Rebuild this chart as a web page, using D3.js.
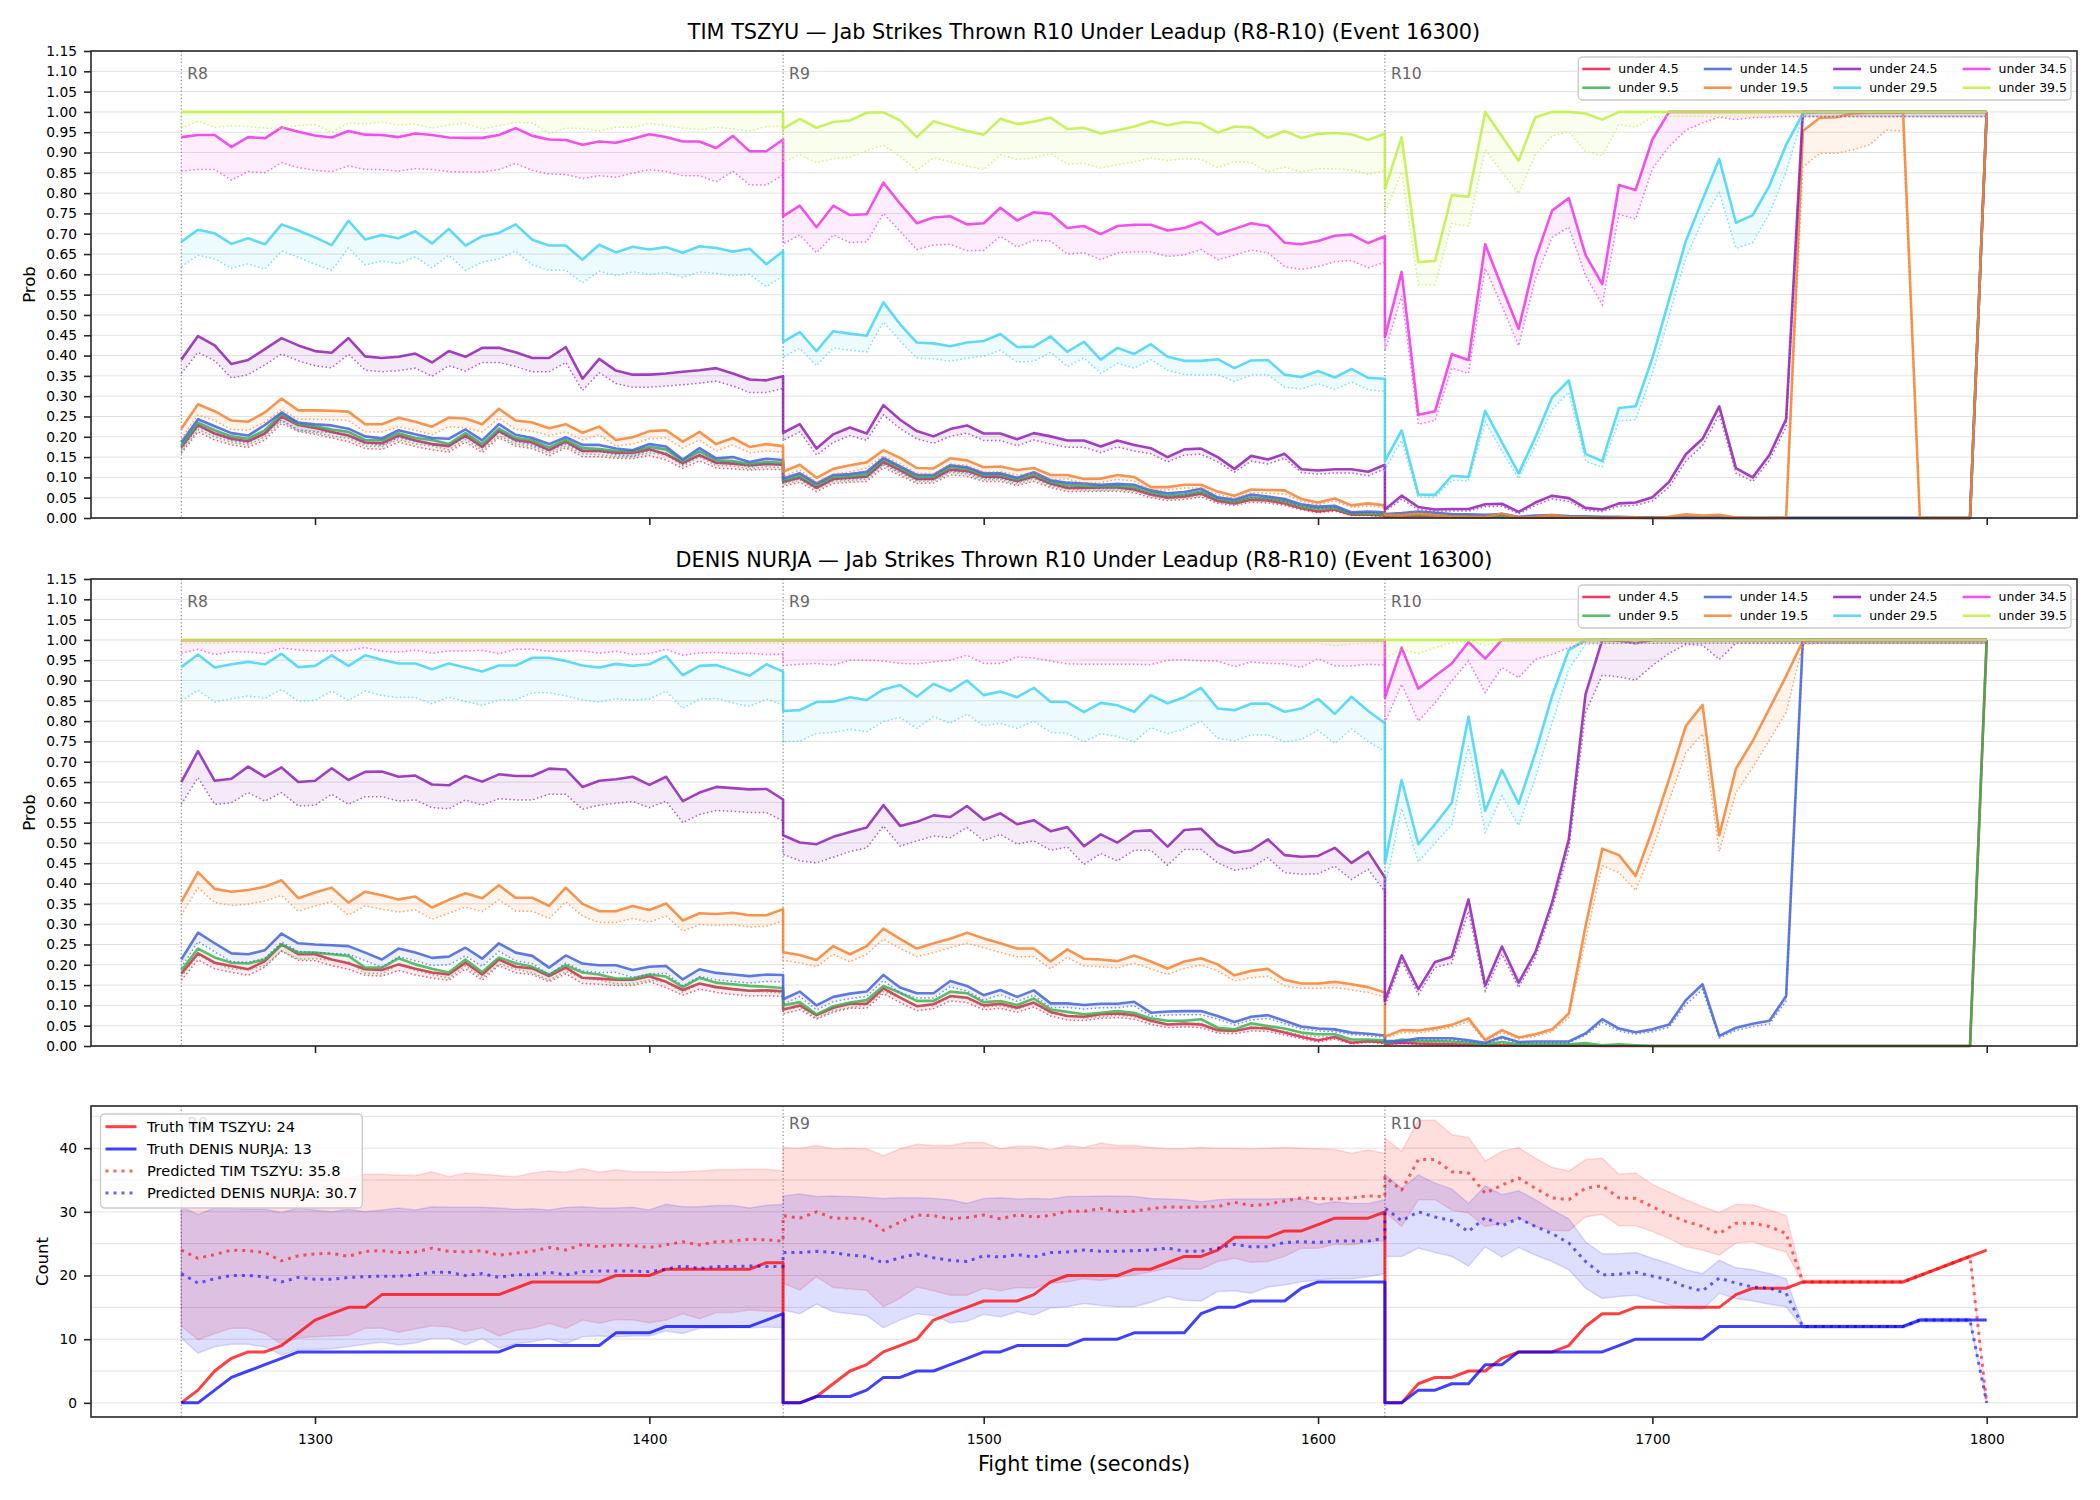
<!DOCTYPE html>
<html>
<head>
<meta charset="utf-8">
<script src="https://cdn.jsdelivr.net/npm/d3@7/dist/d3.min.js"></script>
<style>
  html, body { margin: 0; padding: 0; background: #fff; }
  svg { display: block; }
</style>
</head>
<body>
<div id="chart"></div>
<script>
// ---- data -------------------------------------------------------------
const roundStarts = [1260, 1440, 1620];
const roundLabels = ['R8', 'R9', 'R10'];
const stepSec = 5;
const xTicks = [1300, 1400, 1500, 1600, 1700, 1800];
const countTicks = [0, 10, 20, 30, 40];
const fighters = ['TIM TSZYU', 'DENIS NURJA'];
const thresholds = ['under 4.5', 'under 9.5', 'under 14.5', 'under 19.5', 'under 24.5', 'under 29.5', 'under 34.5', 'under 39.5'];
const colors = ['#e6194B', '#3cb44b', '#4363d8', '#f58231', '#911eb4', '#42d4f4', '#f032e6', '#bfef45'];
const countLegendLabels = ['Truth TIM TSZYU: 24', 'Truth DENIS NURJA: 13', 'Predicted TIM TSZYU: 35.8', 'Predicted DENIS NURJA: 30.7'];

// probabilities in percent, 37 samples per round (R8, R9, R10); "Lo" = dotted lower line
const timU45 = [
  17.4,22.9,20.8,19.5,18.9,20.8,25.0,22.9,22.2,21.2, 20.3,18.6,18.4,20.3,19.1,18.2,17.7,20.3,17.5,21.4, 19.2,18.6,16.7,18.8,16.5,16.5,16.1,16.0,16.9,15.7, 13.5,15.5,13.6,13.4,13.0,13.3,13.1,
  8.9,9.9,7.4,9.6,9.9,10.2,13.8,11.8,9.6,9.7, 11.9,11.6,10.2,10.1,9.1,10.2,8.5,7.4,7.4,7.5, 7.5,7.0,5.8,5.0,5.3,6.0,4.2,3.6,4.5,4.3, 3.6,2.4,1.6,2.1,0.8,0.8,0.6,
  0.3,0.4,0.5,0.4,0.3,0.2,0.2,0.3,0.1,0.1, 0.1,0.1,0.1,0,0,0,0,0,0,0, 0,0,0,0,0,0,0,0,0,0, 0,0,0,0,0,0,100];
const timU45Lo = [
  15.9,21.2,19.2,18.0,17.4,19.2,23.3,21.3,20.6,19.7, 18.8,17.1,16.9,18.7,17.6,16.8,16.2,18.7,16.1,19.8, 17.7,17.1,15.3,17.3,15.1,15.1,14.7,14.6,15.4,14.3, 12.2,14.1,12.3,12.1,11.8,12.0,11.9,
  7.8,8.8,6.5,8.5,8.8,9.0,12.4,10.5,8.5,8.6, 10.6,10.3,9.0,9.0,8.0,9.0,7.5,6.5,6.5,6.6, 6.6,6.2,5.0,4.3,4.6,5.2,3.6,3.1,3.9,3.7, 3.1,2.0,1.3,1.7,0.6,0.6,0.4,
  0.2,0.3,0.4,0.3,0.2,0.1,0.1,0.2,0.1,0.1, 0.1,0.1,0.1,0,0,0,0,0,0,0, 0,0,0,0,0,0,0,0,0,0, 0,0,0,0,0,0,98.9];
const timU95 = [
  17.8,23.5,21.6,20.1,19.5,21.6,25.6,23.1,22.6,21.8, 21.2,19.2,19.1,20.9,19.7,19.2,18.2,20.9,18.2,22.0, 19.7,19.1,17.4,19.2,17.2,17.0,16.5,16.4,17.5,16.9, 14.0,16.4,14.2,14.0,13.3,13.8,13.6,
  9.3,10.4,8.1,10.1,10.3,10.8,14.4,12.3,10.1,10.2, 12.5,12.1,10.6,10.6,9.5,10.8,8.9,8.1,7.9,7.8, 7.9,7.6,6.4,5.5,5.8,6.5,4.7,4.0,5.1,4.8, 4.2,2.8,2.3,2.5,1.1,1.1,0.9,
  0.6,0.7,0.8,0.6,0.5,0.4,0.4,0.5,0.2,0.3, 0.3,0.2,0.2,0.1,0.1,0.1,0,0,0,0, 0,0,0,0,0,0,0,0,0,0, 0,0,0,0,0,0,100];
const timU95Lo = [
  16.2,21.8,20.0,18.6,18.0,20.0,23.9,21.5,21.0,20.2, 19.6,17.7,17.6,19.3,18.2,17.7,16.8,19.3,16.8,20.3, 18.2,17.6,16.0,17.7,15.8,15.6,15.1,15.0,16.0,15.5, 12.8,15.0,12.9,12.8,12.1,12.6,12.4,
  8.2,9.3,7.1,9.0,9.2,9.6,13.0,11.0,9.0,9.1, 11.2,10.8,9.4,9.4,8.4,9.6,7.9,7.1,6.9,6.8, 6.9,6.6,5.5,4.7,5.0,5.6,4.0,3.4,4.3,4.1, 3.6,2.3,1.9,2.1,0.8,0.8,0.7,
  0.4,0.5,0.6,0.4,0.3,0.3,0.3,0.3,0.1,0.2, 0.2,0.1,0.1,0.1,0.1,0.1,0,0,0,0, 0,0,0,0,0,0,0,0,0,0, 0,0,0,0,0,0,98.9];
const timU145 = [
  18.6,24.3,22.6,20.9,20.3,22.9,26.0,23.5,23.1,22.8, 22.0,20.1,19.6,21.6,20.6,19.7,19.5,21.8,19.1,23.1, 20.5,19.7,18.2,19.9,18.0,18.0,17.1,16.7,18.2,17.6, 14.4,17.2,14.7,15.0,13.8,14.6,14.3,
  9.7,11.0,8.5,10.6,10.8,11.4,14.8,12.7,10.6,10.6, 13.0,12.5,11.0,11.0,9.9,11.3,9.3,8.7,8.5,8.2, 8.4,8.2,6.8,6.1,6.4,7.2,5.1,4.5,5.8,5.3, 4.7,3.4,2.8,3.0,1.4,1.6,1.4,
  1.0,1.2,1.6,1.3,1.0,0.9,0.8,1.0,0.3,0.6, 0.7,0.5,0.4,0.3,0.3,0.2,0.1,0.1,0.1,0.1, 0.1,0,0,0,0,0,0,0,0,0, 0,0,0,0,0,0,100];
const timU145Lo = [
  16.8,22.4,20.8,19.1,18.5,21.0,24.1,21.7,21.3,21.0, 20.2,18.4,17.9,19.8,18.9,18.0,17.8,19.9,17.4,21.2, 18.8,18.0,16.6,18.2,16.4,16.4,15.6,15.2,16.6,16.0, 13.1,15.7,13.4,13.6,12.5,13.3,13.0,
  8.6,9.8,7.5,9.4,9.6,10.1,13.3,11.3,9.4,9.4, 11.6,11.1,9.8,9.8,8.8,10.0,8.2,7.7,7.5,7.2, 7.4,7.2,5.9,5.3,5.6,6.3,4.4,3.9,5.0,4.6, 4.1,2.9,2.3,2.5,1.1,1.3,1.1,
  0.8,0.9,1.3,1.0,0.8,0.7,0.6,0.8,0.2,0.5, 0.5,0.4,0.3,0.2,0.2,0.1,0.1,0.1,0.1,0.1, 0.1,0,0,0,0,0,0,0,0,0, 0,0,0,0,0,0,98.9];
const timU195 = [
  22.0,28.0,26.3,24.0,23.7,26.0,29.4,26.5,26.5,26.4, 26.2,23.1,23.1,24.7,23.7,22.5,24.7,24.5,23.1,26.9, 24.0,23.5,22.1,23.1,21.0,22.5,19.2,19.9,21.4,21.6, 18.8,21.2,18.2,19.7,17.5,18.2,17.7,
  11.4,13.1,9.9,12.1,13.0,13.7,16.7,14.8,12.3,12.2, 14.7,14.2,12.5,12.7,11.8,12.3,10.6,10.6,9.6,9.7, 10.6,10.1,7.6,7.6,8.2,8.2,6.5,5.5,7.0,6.9, 6.8,4.7,3.8,4.8,3.1,3.6,3.1,
  0.8,0.7,1.1,0.7,0.4,0.3,0.3,1.1,0.1,0.3, 0.7,0.2,0.2,0,0.1,0.2,0,0.3,0.9,0.6, 0.8,0.1,0,0,0.1,95.3,98.5,98.7,99.6,99.8, 99.8,99.8,0,0,0,0,100];
const timU195Lo = [
  19.5,25.4,24.0,21.8,21.6,23.6,26.7,24.3,24.3,24.2, 24.0,21.2,21.2,22.5,21.6,20.5,22.5,22.2,21.2,24.6, 21.8,21.4,20.3,21.2,19.2,20.5,17.7,18.2,19.5,19.7, 17.2,19.2,16.5,18.0,16.0,16.5,16.2,
  10.2,11.8,8.7,10.8,11.4,12.3,15.3,13.3,11.0,10.9, 13.3,13.0,11.3,11.4,10.6,11.0,9.5,9.6,8.6,8.7, 9.5,9.1,6.9,6.9,7.4,7.4,5.8,4.9,6.2,6.1, 5.9,4.1,3.3,4.2,2.6,3.0,2.5,
  0.5,0.4,0.8,0.5,0.2,0.1,0.1,0.8,0,0.1, 0.5,0.1,0.1,0,0,0.1,0,0.2,0.6,0.4, 0.5,0,0,0,0,86.4,89.8,89.8,90.7,91.9, 95.5,95.3,0,0,0,0,98.9];
const timU245 = [
  39.0,44.8,42.5,37.9,38.9,41.6,44.3,42.5,41.1,40.7, 44.3,39.8,39.4,39.7,40.5,38.3,41.1,39.7,41.9,41.9, 40.8,39.4,39.4,42.1,34.3,39.2,36.3,35.3,35.3,35.6, 36.0,36.4,36.9,35.6,34.1,33.9,34.9,
  21.0,23.1,17.1,20.6,22.3,20.8,27.8,24.2,21.4,20.1, 21.9,22.8,20.8,20.8,19.4,20.9,20.1,19.1,19.1,17.6, 19.1,18.0,17.2,15.0,16.9,17.1,15.0,12.1,15.3,14.4, 15.8,12.0,11.7,12.0,12.0,11.4,13.1,
  2.1,5.5,2.7,2.1,2.2,2.2,3.4,3.5,1.5,3.8, 5.5,4.9,2.5,2.1,3.6,3.8,5.1,8.9,15.7,19.5, 27.5,12.3,10.0,15.5,24.3,100,100,100,100,100, 100,100,100,100,100,100,100];
const timU245Lo = [
  35.6,40.8,38.7,34.5,35.3,37.7,40.4,38.7,37.5,37.0, 40.3,36.4,36.0,36.3,36.9,34.9,37.5,36.2,38.3,38.3, 37.3,36.0,36.0,38.3,31.4,35.8,33.1,32.2,32.2,32.5, 32.8,33.2,33.7,32.5,30.9,30.9,31.9,
  19.1,21.2,15.5,18.6,20.3,19.1,25.4,22.0,19.5,18.4, 20.1,20.9,19.1,19.1,17.8,19.2,18.2,17.4,17.4,16.1, 17.5,16.5,15.8,13.8,15.5,15.7,13.8,11.3,14.0,13.3, 14.7,11.2,10.8,11.1,11.1,10.4,12.1,
  1.6,4.6,2.1,1.6,1.7,1.7,2.8,2.9,1.0,3.1, 4.7,4.1,1.9,1.6,2.9,3.1,4.2,7.6,14.0,17.8, 25.5,11.0,9.0,14.2,22.4,98.9,98.9,98.9,98.9,98.9, 98.9,98.9,98.9,98.9,98.9,98.9,98.9];
const timU295 = [
  68.0,71.0,70.1,67.5,68.9,67.4,72.3,70.8,69.1,67.2, 73.2,68.6,69.7,68.9,70.6,67.6,71.2,67.1,69.4,70.2, 72.3,68.5,67.1,67.1,63.6,67.3,65.4,66.8,66.1,66.7, 65.3,66.9,66.5,65.6,66.3,62.5,65.7,
  43.4,45.8,41.1,46.0,45.4,44.9,53.1,47.7,43.2,43.0, 42.3,43.2,43.6,45.3,42.1,42.2,44.7,40.9,43.4,39.0, 41.9,40.4,42.8,39.7,38.7,38.7,39.1,36.9,38.8,38.9, 35.3,34.7,36.2,34.6,36.7,34.5,34.3,
  14.0,21.6,5.8,5.7,10.4,10.1,26.4,18.6,11.0,19.9, 29.7,33.9,15.8,14.0,27.1,27.5,39.4,53.8,68.2,78.4, 88.4,72.7,74.6,81.8,91.9,99.6,100,100,100,100, 100,100,100,100,100,100,100];
const timU295Lo = [
  61.9,64.7,63.8,61.5,62.6,61.3,65.7,64.2,62.5,61.0, 66.5,62.3,63.3,62.6,64.3,61.6,64.7,61.0,63.0,63.8, 65.7,62.3,61.0,61.0,57.9,60.8,59.7,60.6,60.0,60.4, 59.3,60.6,60.2,59.7,60.0,57.0,59.6,
  39.6,41.8,37.5,41.9,41.3,40.9,48.3,43.6,39.4,39.2, 38.6,39.4,39.8,41.3,38.4,38.6,40.8,37.3,39.4,35.6, 38.1,36.9,39.0,36.4,35.3,35.2,35.3,33.6,35.2,35.3, 32.2,31.8,33.1,31.6,33.5,31.6,31.2,
  11.9,19.1,5.1,5.1,9.3,9.1,23.7,16.5,9.7,17.8, 26.7,30.9,14.0,12.5,23.9,24.2,35.6,49.6,64.0,73.3, 80.1,66.4,67.8,75.0,85.2,98.9,98.9,98.9,98.9,98.9, 98.9,98.9,98.9,98.9,98.9,98.9,98.9];
const timU345 = [
  93.8,94.3,94.3,91.4,93.8,93.5,96.2,95.1,94.2,93.7, 95.3,94.4,94.3,93.8,94.7,94.3,93.7,93.6,93.6,94.3, 96.0,94.1,93.2,93.1,91.9,92.7,92.4,93.4,94.5,93.8, 92.7,92.7,91.1,94.1,90.3,90.3,93.2,
  74.3,76.9,71.6,76.9,74.6,74.8,82.6,77.4,72.6,74.0, 74.3,72.3,72.6,76.4,73.3,75.3,74.9,71.4,71.9,69.9, 71.9,72.2,72.2,70.8,71.4,72.9,69.8,71.2,72.6,71.9, 67.8,67.4,68.2,69.5,69.8,67.7,69.4,
  44.5,60.6,25.4,26.3,40.3,38.9,67.4,56.8,46.6,63.8, 75.7,78.8,64.8,57.6,82.0,80.8,93.2,100,100,100, 100,100,100,100,100,100,100,100,100,100, 100,100,100,100,100,100,100];
const timU345Lo = [
  85.4,85.8,85.8,83.2,85.3,85.0,87.5,86.3,85.6,85.3, 86.7,85.8,85.8,85.4,86.0,85.8,85.3,85.2,85.2,85.8, 87.3,85.6,84.7,84.6,83.6,84.3,83.9,84.9,85.8,85.3, 84.3,84.3,82.8,85.4,82.0,82.0,84.5,
  67.5,69.7,65.3,69.7,67.8,68.0,75.0,70.6,66.1,67.2, 67.4,65.8,65.9,69.4,66.7,68.4,68.2,65.0,65.3,63.6, 65.3,65.5,65.5,64.4,64.8,66.1,63.6,64.7,66.0,65.3, 61.9,61.2,61.9,63.1,63.4,61.6,63.0,
  41.1,54.7,23.1,24.0,36.9,35.6,61.5,52.2,42.4,58.9, 69.1,71.6,59.7,52.5,74.8,73.6,86.0,91.5,95.5,97.3, 98.7,98.1,98.6,98.7,98.9,98.9,98.9,98.9,98.9,98.9, 98.9,98.9,98.9,98.9,98.9,98.9,98.9];
const timU395 = [
  100,100,100,100,100,100,100,100,100,100, 100,100,100,100,100,100,100,100,100,100, 100,100,100,100,100,100,100,100,100,100, 100,100,100,100,100,100,100,
  95.9,98.3,96.1,97.5,97.9,99.8,99.9,97.9,93.8,97.7, 96.5,95.3,94.4,98.3,97.0,97.6,98.6,95.8,96.1,94.7, 95.5,96.4,97.7,96.7,97.5,97.2,94.9,96.4,96.2,93.6, 95.3,93.6,94.6,94.8,94.5,93.1,94.7,
  81.0,93.8,63.0,63.3,79.5,79.1,100,94.0,88.0,98.7, 100,100,99.6,98.1,100,100,100,100,100,100, 100,100,100,100,100,100,100,100,100,100, 100,100,100,100,100,100,100];
const timU395Lo = [
  96.0,97.7,96.2,96.6,96.4,96.0,96.0,96.6,96.9,94.9, 97.3,97.0,97.5,96.8,97.0,96.0,96.8,97.2,95.8,96.6, 97.4,97.3,94.7,96.0,95.9,95.3,96.2,96.2,97.2,96.6, 96.0,95.6,96.2,95.8,95.3,96.4,96.4,
  87.7,89.4,87.5,88.5,88.8,90.5,91.8,89.0,85.6,88.7, 87.7,86.7,85.8,89.4,88.3,88.7,89.7,87.2,87.3,86.2, 87.0,87.7,88.7,88.0,88.5,88.3,86.3,87.7,87.5,85.2, 86.4,85.2,86.0,86.0,85.7,84.6,85.6,
  75.0,85.2,57.4,57.5,72.5,71.9,90.7,85.2,79.9,89.4, 94.1,95.1,90.3,89.2,96.9,96.2,98.7,98.9,98.9,98.9, 98.9,98.9,98.9,98.9,98.9,98.9,98.9,98.9,98.9,98.9, 98.9,98.9,98.9,98.9,98.9,98.9,98.9];

const denU45 = [
  17.8,22.8,20.5,19.7,18.9,20.9,25.0,22.6,22.6,21.3, 20.4,18.9,18.7,20.1,19.0,18.1,17.6,20.5,17.6,21.3, 19.5,19.1,17.2,19.3,16.8,16.6,16.3,16.3,17.2,15.8, 13.8,15.4,14.5,14.0,13.6,13.7,13.5,
  9.0,10.0,7.6,9.4,10.4,10.4,14.2,11.9,9.8,10.3, 12.3,11.9,10.0,10.4,9.4,10.7,8.4,7.4,7.2,7.8, 8.0,7.6,6.2,5.3,5.5,5.3,3.9,3.7,4.5,4.3, 3.3,2.3,1.4,2.2,0.8,1.2,0.9,
  0.5,0.8,0.6,0.5,0.4,0.3,0.2,0.2,0.1,0.1, 0.1,0.1,0.1,0,0,0,0,0,0,0, 0,0,0,0,0,0,0,0,0,0, 0,0,0,0,0,0,100];
const denU45Lo = [
  16.2,21.2,19.0,18.2,17.4,19.4,23.4,21.1,21.0,19.8, 18.9,17.4,17.2,18.6,17.5,16.7,16.2,19.0,16.2,19.8, 18.0,17.6,15.8,17.8,15.4,15.2,14.9,14.9,15.8,14.4, 12.5,14.0,13.2,12.7,12.3,12.4,12.2,
  7.9,8.9,6.6,8.3,9.3,9.3,12.9,10.7,8.7,9.2, 11.1,10.7,8.9,9.3,8.3,9.6,7.4,6.4,6.3,6.8, 7.0,6.6,5.3,4.5,4.7,4.5,3.2,3.0,3.7,3.6, 2.7,1.8,1.0,1.7,0.5,0.9,0.6,
  0.3,0.6,0.4,0.3,0.3,0.2,0.1,0.1,0.1,0.1, 0.1,0.1,0.1,0,0,0,0,0,0,0, 0,0,0,0,0,0,0,0,0,0, 0,0,0,0,0,0,99.2];
const denU95 = [
  18.6,24.0,21.8,20.5,20.3,21.3,25.0,23.0,23.0,22.6, 22.2,19.3,19.3,21.6,20.1,19.0,18.1,21.3,18.2,21.8, 20.4,19.5,17.6,19.9,18.1,17.6,16.6,16.6,17.6,17.1, 14.5,16.8,15.6,15.2,14.8,14.6,14.3,
  10.0,10.8,7.8,9.8,10.7,11.3,14.8,13.1,11.1,11.1, 13.4,13.0,10.8,11.1,10.1,11.7,9.0,8.4,7.8,8.2, 8.6,8.2,6.8,6.2,6.2,6.6,4.5,4.1,5.6,4.9, 4.3,3.3,2.9,2.9,1.6,1.6,1.4,
  0.7,1.6,1.2,1.2,1.1,0.8,0.4,1.0,0.4,0.4, 0.4,0.4,0.7,0.2,0.4,0.2,0,0,0,0, 0,0,0,0,0,0,0,0,0,0, 0,0,0,0,0,0,100];
const denU95Lo = [
  17.1,22.4,20.3,19.0,18.8,19.8,23.4,21.4,21.5,21.1, 20.7,17.9,17.8,20.0,18.6,17.6,16.7,19.7,16.8,20.2, 18.9,18.0,16.2,18.4,16.7,16.2,15.3,15.3,16.2,15.7, 13.2,15.4,14.3,13.9,13.5,13.3,13.0,
  8.8,9.6,6.8,8.7,9.5,10.1,13.4,11.8,9.9,9.9, 12.0,11.7,9.6,9.9,9.0,10.5,8.0,7.4,6.9,7.2, 7.6,7.2,5.9,5.4,5.4,5.7,3.8,3.4,4.8,4.1, 3.6,2.7,2.3,2.3,1.1,1.1,1.0,
  0.5,1.3,0.9,0.9,0.8,0.6,0.3,0.7,0.3,0.3, 0.3,0.3,0.5,0.1,0.3,0.1,0,0,0,0, 0,0,0,0,0,0,0,0,0,0, 0,0,0,0,0,0,99.2];
const denU145 = [
  21.3,27.9,25.3,22.8,22.6,23.6,27.7,25.3,25.0,24.8, 24.6,23.0,21.3,24.0,23.0,21.7,22.0,24.2,21.5,25.3, 23.0,22.2,19.3,22.3,20.3,19.9,19.9,18.7,19.5,19.7, 16.4,18.9,18.0,17.6,17.2,17.6,17.5,
  11.5,13.4,10.0,12.1,12.9,13.4,17.5,14.4,13.0,13.0, 16.0,14.8,12.5,13.8,12.1,13.7,10.5,10.5,10.1,10.4, 10.4,10.9,8.2,8.5,8.6,8.6,7.4,5.9,7.2,7.6, 6.2,4.8,4.3,4.1,3.3,3.0,2.6,
  1.2,1.2,1.9,1.9,1.9,1.4,0.8,2.2,1.0,1.1, 1.1,1.1,3.1,6.6,4.3,3.4,4.1,5.3,11.3,15.2, 2.5,4.5,5.5,6.2,12.3,100,100,100,100,100, 100,100,100,100,100,100,100];
const denU145Lo = [
  19.3,25.7,23.2,20.8,20.6,21.6,25.6,23.3,23.0,22.8, 22.6,21.0,19.4,22.0,21.0,19.8,20.0,22.2,19.6,23.3, 21.0,20.3,17.5,20.4,18.5,18.1,18.1,16.9,17.7,17.9, 14.8,17.1,16.3,15.9,15.5,15.9,15.8,
  10.3,12.2,8.9,10.9,11.7,12.2,16.1,13.1,11.8,11.8, 14.6,13.5,11.3,12.6,11.0,12.5,9.5,9.5,9.1,9.4, 9.4,9.9,7.3,7.6,7.7,7.7,6.6,5.2,6.4,6.8, 5.5,4.2,3.7,3.5,2.8,2.5,2.1,
  0.8,0.8,1.5,1.5,1.5,1.0,0.5,1.8,0.7,0.8, 0.8,0.8,2.6,5.8,3.7,2.9,3.5,4.6,10.2,13.9, 2.0,3.8,4.8,5.4,11.1,99.2,99.2,99.2,99.2,99.2, 99.2,99.2,99.2,99.2,99.2,99.2,99.2];
const denU195 = [
  35.5,42.8,38.7,38.0,38.4,39.2,40.8,36.4,37.8,39.0, 35.3,38.0,37.1,36.1,36.8,34.1,36.0,37.6,36.4,39.6, 36.5,36.5,34.5,39.0,35.0,33.2,33.2,34.5,33.5,35.1, 30.9,32.7,32.5,32.8,32.2,32.2,33.7,
  23.1,22.4,21.2,24.6,22.6,24.6,28.9,26.4,24.0,25.3, 26.4,27.9,26.5,25.3,24.0,24.0,20.8,23.8,21.5,21.3, 20.9,22.3,20.8,19.1,20.8,21.6,20.1,17.4,18.5,19.0, 16.3,15.4,15.4,15.8,15.2,14.5,13.2,
  2.3,3.9,3.8,4.4,5.2,6.8,1.5,3.9,2.1,2.9, 4.1,8.0,29.5,48.6,47.0,41.9,53.2,65.7,78.8,84.0, 51.9,68.3,75.1,83.1,91.1,99.7,100,100,100,100, 100,100,100,100,100,100,100];
const denU195Lo = [
  32.2,39.0,35.3,34.6,34.9,35.7,37.1,33.2,34.5,35.5, 32.2,34.5,33.7,33.0,33.5,31.2,32.7,34.2,33.1,36.0, 33.2,33.2,31.4,35.5,32.0,30.4,30.4,31.4,30.5,32.0, 28.3,29.9,29.7,29.9,29.3,29.5,30.8,
  21.1,20.5,19.5,22.6,20.7,22.6,26.3,24.0,22.0,23.0, 24.2,25.3,24.2,23.0,22.0,22.0,19.0,21.8,19.7,19.5, 19.2,20.4,19.0,17.6,19.1,19.9,18.5,16.0,16.8,17.2, 14.8,14.2,14.2,14.4,13.8,13.2,12.0,
  1.8,3.3,3.2,3.8,4.6,6.0,1.1,3.3,1.7,2.4, 3.5,7.0,26.0,44.4,42.7,38.3,48.4,60.4,72.2,76.9, 47.9,62.4,68.6,75.4,82.1,98.9,99.2,99.2,99.2,99.2, 99.2,99.2,99.2,99.2,99.2,99.2,99.2];
const denU245 = [
  65.0,72.6,65.3,65.8,68.8,66.3,68.6,65.0,65.3,68.4, 65.5,67.5,67.6,66.3,66.6,64.4,64.2,66.5,65.1,66.9, 66.5,66.5,68.3,68.1,63.8,65.3,65.7,66.3,64.3,66.3, 60.3,62.4,63.8,63.5,63.2,63.3,60.7,
  51.9,50.1,49.7,51.5,52.7,53.8,59.3,54.2,55.2,56.8, 56.4,59.1,55.7,57.3,54.6,55.6,52.9,53.9,49.2,52.1, 50.1,52.9,53.1,49.1,53.2,53.5,49.5,47.6,48.2,50.9, 47.0,46.6,46.8,48.8,45.1,47.8,41.5,
  11.1,22.3,14.0,20.7,22.0,36.1,14.9,24.5,15.6,23.1, 35.3,50.9,86.6,100,99.8,99.2,100,100,100,100, 100,100,100,100,100,100,100,100,100,100, 100,100,100,100,100,100,100];
const denU245Lo = [
  59.5,66.1,59.5,59.9,62.4,60.3,62.4,59.1,59.3,62.0, 59.5,61.4,61.4,60.3,60.6,58.7,58.4,60.6,59.3,60.9, 60.6,60.6,62.0,62.0,58.3,59.3,59.8,60.2,58.7,60.3, 55.0,57.0,58.0,57.8,57.5,57.5,55.4,
  47.2,45.6,45.1,46.5,47.9,48.8,54.2,49.2,50.5,51.7, 51.3,53.8,50.6,52.1,49.7,50.5,48.2,49.0,44.7,47.4, 45.6,48.2,48.2,44.5,48.4,48.4,45.1,43.3,43.9,46.4, 42.7,42.3,42.4,44.3,41.0,43.5,38.0,
  9.8,20.9,12.7,19.3,20.4,33.2,13.5,22.6,14.4,21.8, 33.7,48.4,82.1,91.3,90.9,90.1,93.7,96.7,98.9,98.7, 95.2,99.2,99.2,99.2,99.2,99.2,99.2,99.2,99.2,99.2, 99.2,99.2,99.2,99.2,99.2,99.2,99.2];
const denU295 = [
  93.3,96.4,93.2,94.0,94.6,94.0,96.6,93.3,93.6,96.2, 93.6,96.2,95.1,94.2,94.2,92.8,94.2,93.2,92.2,93.7, 93.7,95.6,95.6,94.8,93.7,93.2,94.1,93.6,94.0,96.0, 91.3,93.6,93.8,92.5,91.2,94.0,92.2,
  82.5,82.7,84.7,84.8,85.9,85.2,87.8,88.9,86.0,89.2, 87.4,90.0,86.4,87.3,85.9,88.2,84.8,84.7,82.2,84.5, 83.9,82.3,86.4,84.4,85.9,88.2,83.1,82.7,84.3,84.3, 82.3,83.1,85.5,81.8,86.0,82.5,79.5,
  45.0,65.5,49.7,54.6,59.9,81.1,57.9,68.0,59.7,72.2, 86.2,97.5,100,100,100,100,100,100,100,100, 100,100,100,100,100,100,100,100,100,100, 100,100,100,100,100,100,100];
const denU295Lo = [
  85.0,87.6,84.7,85.5,86.2,85.6,87.8,84.9,85.1,87.4, 85.1,87.4,86.3,85.8,85.8,84.3,85.9,84.8,83.9,85.2, 85.2,87.0,87.0,86.2,85.2,84.7,85.5,85.2,85.4,87.4, 83.1,85.4,85.6,84.5,83.6,85.4,84.0,
  74.9,75.1,77.0,77.2,78.0,77.4,79.9,80.9,78.2,81.1, 79.5,81.7,78.8,79.5,78.2,80.0,77.2,77.0,74.9,76.9, 76.2,74.9,78.4,76.9,78.1,80.0,75.8,75.1,76.6,76.6, 74.9,75.5,77.7,74.5,78.1,75.0,72.5,
  39.0,58.5,45.3,50.0,54.5,73.9,52.6,61.6,54.3,66.0, 79.5,92.7,98.9,99.2,99.2,99.2,99.2,99.2,99.2,99.2, 99.2,99.2,99.2,99.2,99.2,99.2,99.2,99.2,99.2,99.2, 99.2,99.2,99.2,99.2,99.2,99.2,99.2];
const denU345 = [
  99.9,99.9,99.9,99.9,99.9,99.9,99.9,99.9,99.9,99.9, 99.9,99.9,99.9,99.9,99.9,99.9,99.9,99.9,99.9,99.9, 99.9,99.9,99.9,99.9,99.9,99.9,99.9,99.9,99.9,99.9, 99.9,99.9,99.9,99.9,99.9,99.9,99.9,
  99.9,99.9,99.9,99.9,99.9,99.9,99.9,99.9,99.9,99.9, 99.9,99.9,99.9,99.9,99.9,99.9,99.9,99.9,99.9,99.9, 99.9,99.9,99.9,99.9,99.9,99.9,99.9,99.9,99.9,99.9, 99.9,99.9,99.9,99.9,99.9,99.9,99.9,
  85.8,98.1,88.0,91.1,94.2,99.5,95.4,100,100,100, 100,100,100,100,100,100,100,100,100,100, 100,100,100,100,100,100,100,100,100,100, 100,100,100,100,100,100,100];
const denU345Lo = [
  96.7,97.7,96.4,97.1,97.0,96.6,98.0,97.5,97.3,97.3, 97.4,98.1,97.2,97.0,97.5,96.7,97.3,97.3,97.4,96.6, 97.7,97.7,97.2,97.2,97.3,96.7,97.2,96.4,96.6,97.7, 96.2,96.8,96.9,96.6,96.7,96.4,96.5,
  93.7,94.0,94.2,93.8,95.0,95.0,94.8,94.2,94.1,94.6, 95.0,96.2,94.2,94.2,95.8,95.5,94.8,94.1,94.0,94.0, 94.0,94.0,93.9,95.0,95.1,94.8,94.8,93.4,94.6,94.2, 94.1,93.2,95.4,93.6,93.6,94.0,93.8,
  79.6,89.1,80.0,84.5,89.9,94.8,87.0,93.2,90.7,95.2, 96.4,98.1,99.3,99.2,99.2,99.2,99.2,99.2,99.2,99.2, 99.2,99.2,99.2,99.2,99.2,99.2,99.2,99.2,99.2,99.2, 99.2,99.2,99.2,99.2,99.2,99.2,99.2];
const denU395 = [
  100,100,100,100,100,100,100,100,100,100, 100,100,100,100,100,100,100,100,100,100, 100,100,100,100,100,100,100,100,100,100, 100,100,100,100,100,100,100,
  100,100,100,100,100,100,100,100,100,100, 100,100,100,100,100,100,100,100,100,100, 100,100,100,100,100,100,100,100,100,100, 100,100,100,100,100,100,100,
  100,100,100,100,100,100,100,100,100,100, 100,100,100,100,100,100,100,100,100,100, 100,100,100,100,100,100,100,100,100,100, 100,100,100,100,100,100,100];
const denU395Lo = [
  99.2,99.2,99.2,99.2,99.2,99.2,99.2,99.2,99.2,99.2, 99.2,99.2,99.2,99.2,99.2,99.2,99.2,99.2,99.2,99.2, 99.2,99.2,99.2,99.2,99.2,99.2,99.2,99.2,99.2,99.2, 99.2,99.2,99.2,99.2,99.2,99.2,99.2,
  99.2,99.2,99.2,99.2,99.2,99.2,99.2,99.2,99.2,99.2, 99.2,99.2,99.2,99.2,99.2,99.2,99.2,99.2,99.2,99.2, 99.2,99.2,99.2,99.2,99.2,99.2,99.2,99.2,99.2,99.2, 99.2,99.2,99.2,98.5,99.0,99.2,99.2,
  95.4,97.8,96.6,98.1,99.3,99.7,98.7,99.7,99.2,99.2, 99.2,99.2,99.2,99.2,99.2,99.2,99.2,99.2,99.2,99.2, 99.2,99.2,99.2,99.2,99.2,99.2,99.2,99.2,99.2,99.2, 99.2,99.2,99.2,99.2,99.2,99.2,99.2];

// cumulative counts (bottom panel)
const truthTim = [
  0,2,5,7,8,8,9,11,13,14, 15,15,17,17,17,17,17,17,17,17, 18,19,19,19,19,19,20,20,20,21, 21,21,21,21,21,22,22,
  0,0,1,3,5,6,8,9,10,13, 14,15,16,16,16,17,19,20,20,20, 20,21,21,22,23,23,24,26,26,26, 27,27,28,29,29,29,30,
  0,0,3,4,4,5,5,7,8,8, 8,9,12,14,14,15,15,15,15,15, 15,17,18,18,18,19,19,19,19,19, 19,19,20,21,22,23,24];
const truthDen = [
  0,0,2,4,5,6,7,8,8,8, 8,8,8,8,8,8,8,8,8,8, 9,9,9,9,9,9,11,11,11,12, 12,12,12,12,12,13,14,
  0,0,1,1,1,2,4,4,5,5, 6,7,8,8,9,9,9,9,10,10, 10,11,11,11,11,14,15,15,16,16, 16,18,19,19,19,19,19,
  0,0,2,2,3,3,6,6,8,8, 8,8,8,8,9,10,10,10,10,10, 12,12,12,12,12,12,12,12,12,12, 12,12,13,13,13,13,13];
const predTim = [
  24.0,22.7,23.3,24.0,23.9,23.6,22.3,23.1,23.4,23.5, 23.0,23.8,23.9,23.6,23.7,24.3,23.8,23.7,23.9,23.2, 23.5,23.8,24.4,24.0,24.9,24.5,24.8,24.7,24.4,24.8, 25.3,24.8,25.3,25.4,25.7,25.6,25.4,
  29.4,29.0,30.0,29.0,29.0,28.9,27.1,28.4,29.5,29.4, 28.9,29.1,29.5,28.9,29.5,29.2,29.4,30.1,30.1,30.5, 30.0,30.1,30.5,30.8,30.7,30.8,30.8,31.5,31.0,31.2, 31.7,32.2,32.1,32.0,32.2,32.5,32.4,
  35.5,33.4,38.2,38.2,36.3,36.1,32.9,34.2,35.3,33.7, 32.2,31.9,33.7,34.1,32.2,32.1,30.8,29.5,28.5,27.7, 26.6,28.2,28.2,27.7,26.6,19,19,19,19,19, 19,19,20,21,22,23,0];
const predDen = [
  20.3,18.8,19.5,20.0,20.0,19.8,19.0,19.7,19.4,19.4, 19.7,19.8,19.9,19.9,20.1,20.5,20.5,20.0,20.3,19.7, 20.1,20.1,20.5,20.1,20.6,20.7,20.7,20.7,20.6,21.0, 21.5,21.1,21.4,21.4,21.5,21.4,21.4,
  23.6,23.6,23.8,23.6,23.2,23.0,22.0,22.8,23.4,22.8, 22.4,22.2,23.1,22.9,23.3,22.9,23.6,23.7,24.0,23.8, 23.8,23.9,24.0,24.3,23.8,23.8,24.3,24.9,24.5,24.5, 25.2,25.3,25.2,25.4,25.4,25.4,25.9,
  30.6,28.6,30.0,29.2,28.6,26.9,29.1,27.8,29.0,27.7, 26.6,25.1,22.2,20.1,20.2,20.5,19.9,19.3,18.2,17.6, 19.6,18.8,18.2,18.0,17.2,12,12,12,12,12, 12,12,13,13,13,13,0];
const bandTimHi = [
  35.8,35.3,35.7,35.9,35.7,35.5,35.4,35.9,35.8,35.5, 35.3,35.9,35.9,35.8,35.7,36.3,35.5,36.1,35.9,35.7, 35.5,36.1,36.4,36.2,36.8,36.2,36.6,36.3,36.3,36.2, 36.3,36.4,36.6,36.6,36.7,36.7,36.4,
  40.1,40.0,40.4,39.9,40.0,39.9,38.8,39.9,40.6,40.4, 40.4,40.9,40.9,39.9,40.3,40.3,39.7,40.4,40.1,40.8, 40.4,40.4,40.1,39.9,39.9,40.1,40.0,40.0,39.9,40.0, 40.1,40.0,39.9,39.8,39.2,39.7,39.2,
  41.6,39.5,44.4,44.4,42.1,41.7,38.0,39.5,40.1,38.4, 37.0,36.4,38.2,38.4,35.9,36.1,34.3,33.1,31.9,30.8, 29.9,31.2,31.1,30.3,29.4,19.3,19.3,19.3,19.3,19.3, 19.3,19.3,20.2,21.2,22.2,23.2,0];
const bandTimLo = [
  12.1,9.9,10.9,11.7,11.7,10.9,9.2,10.2,10.4,10.5, 10.6,11.7,11.7,11.1,11.6,12.1,11.9,11.2,11.8,10.5, 11.4,11.7,12.5,11.7,13.0,12.5,13.1,13.0,12.6,13.0, 14.0,13.2,14.2,14.2,14.6,14.4,14.4,
  18.8,17.7,19.8,18.1,17.9,17.7,15.1,16.4,18.2,17.6, 16.9,16.9,18.0,17.6,18.1,18.0,18.8,19.0,19.5,19.2, 19.7,20.1,20.6,21.1,21.0,21.0,22.2,22.7,22.1,22.2, 23.0,24.3,24.3,24.9,24.8,25.3,25.4,
  30.0,27.7,31.9,31.9,30.3,29.8,27.7,28.2,29.0,27.7, 27.1,27.0,29.2,29.6,27.8,27.8,26.9,25.8,24.5,24.0, 23.2,25.1,25.3,24.4,23.7,18.8,18.8,18.8,18.8,18.8, 18.8,18.8,19.8,20.8,21.8,22.8,0];
const bandDenHi = [
  30.8,29.6,30.6,30.6,30.4,30.4,29.9,30.6,30.3,30.0, 30.4,30.0,30.3,30.6,30.3,30.8,30.7,30.7,30.7,30.6, 30.4,30.5,30.3,30.7,30.8,30.6,30.6,30.7,30.3,31.2, 30.8,30.8,31.0,31.0,30.6,31.0,31.2,
  32.5,32.8,32.4,32.5,32.4,32.3,32.1,32.2,32.2,32.1, 31.9,31.3,32.1,32.2,32.0,32.1,32.0,32.4,32.4,32.5, 32.5,32.4,32.1,32.0,31.9,31.6,31.9,32.0,32.0,32.0, 32.1,32.0,31.2,31.6,31.3,31.3,31.9,
  35.9,33.7,35.8,34.5,33.6,31.3,34.1,32.7,33.3,31.9, 30.3,28.9,25.3,23.4,23.4,23.6,22.7,21.9,20.9,20.3, 22.4,21.2,20.9,20.3,19.5,12.2,12.2,12.2,12.2,12.2, 12.2,12.2,13.3,13.3,13.3,13.3,0];
const bandDenLo = [
  10.2,7.8,8.8,9.2,9.2,8.8,7.5,8.4,8.4,8.5, 8.8,9.2,9.5,9.1,9.4,10.1,10.1,9.1,10.1,8.6, 9.3,9.6,10.1,9.3,10.4,10.5,10.4,10.5,10.5,11.3, 10.9,11.7,11.7,11.8,11.8,11.9,11.8,
  14.6,14.0,15.5,14.3,14.0,13.7,11.8,13.0,14.0,13.7, 12.6,12.8,13.9,13.5,14.3,13.8,14.9,15.1,15.6,15.3, 15.1,15.1,15.8,16.7,16.1,16.0,17.5,17.6,17.2,18.2, 18.5,19.0,19.3,19.5,19.5,19.8,20.3,
  23.0,23.0,24.3,23.6,23.0,21.5,24.5,22.9,24.4,23.2, 22.2,20.9,18.0,16.4,16.7,16.9,16.1,15.4,14.8,14.7, 17.2,16.4,16.0,15.5,15.1,11.7,11.7,11.7,11.7,11.7, 11.7,11.7,12.7,12.7,12.7,12.7,0];

// ---- layout -----------------------------------------------------------
const W = 2100, H = 1500;
const X0 = 91, X1 = 2077;
const FONT = '"DejaVu Sans", Verdana, sans-serif';
const INK = '#262626';

const svg = d3.select('#chart').append('svg')
  .attr('width', W).attr('height', H)
  .style('font-family', FONT);
svg.append('rect').attr('width', W).attr('height', H).attr('fill', '#fff');

const perRound = timU45.length / roundStarts.length;
const times = roundStarts.flatMap(s => d3.range(perRound).map(i => s + i * stepSec));
const tExt = d3.extent(times);
const tPad = (tExt[1] - tExt[0]) * 0.05;
const x = d3.scaleLinear().domain([tExt[0] - tPad, tExt[1] + tPad]).range([X0, X1]);

function background(g, y, top, bottom, grid, labelDy) {
  g.append('g').selectAll('line').data(grid).join('line')
    .attr('x1', X0).attr('x2', X1)
    .attr('y1', d => y(d)).attr('y2', d => y(d))
    .attr('stroke', '#e2e2e2').attr('stroke-width', 1);
  g.append('g').selectAll('line').data(roundStarts).join('line')
    .attr('x1', d => x(d)).attr('x2', d => x(d))
    .attr('y1', top).attr('y2', bottom)
    .attr('stroke', '#808080').attr('stroke-width', 1.2)
    .attr('stroke-dasharray', '1.2,2.4');
  g.append('g').selectAll('text').data(roundStarts).join('text')
    .attr('x', d => x(d) + 6).attr('y', top + labelDy)
    .attr('font-size', 15.6).attr('fill', '#666')
    .text((d, i) => roundLabels[i]);
}

function axes(g, y, top, bottom, yVals, yFmt, xLabels) {
  const ay = g.append('g').attr('transform', `translate(${X0},0)`)
    .call(d3.axisLeft(y).tickValues(yVals).tickFormat(yFmt).tickSize(7).tickPadding(7));
  ay.select('.domain').remove();
  ay.selectAll('line').attr('stroke', INK).attr('stroke-width', 1.6);
  ay.selectAll('text').attr('font-size', 13.8).attr('font-family', FONT).attr('fill', '#000');

  const ax = g.append('g').attr('transform', `translate(0,${bottom})`)
    .call(d3.axisBottom(x).tickValues(xTicks).tickFormat(xLabels ? d3.format('d') : () => '').tickSize(7).tickPadding(10));
  ax.select('.domain').remove();
  ax.selectAll('line').attr('stroke', INK).attr('stroke-width', 1.6);
  ax.selectAll('text').attr('font-size', 13.8).attr('font-family', FONT).attr('fill', '#000');

  g.append('rect')
    .attr('x', X0).attr('y', top).attr('width', X1 - X0).attr('height', bottom - top)
    .attr('fill', 'none').attr('stroke', INK).attr('stroke-width', 1.6);
}

function probLegend(g, top) {
  const fs = 12.5, handle = 28, gap = 8, colGap = 25, pad = 4, rows = [18, 36.7];
  const lg = g.append('g');
  const box = lg.append('rect');
  const items = thresholds.map((name, k) => ({ name, k, col: Math.floor(k / 2), row: k % 2 }));
  const texts = lg.selectAll('text').data(items).join('text')
    .attr('font-size', fs).attr('dy', '0.35em').attr('fill', '#000').text(d => d.name);
  const colW = d3.range(4).map(c => d3.max(texts.filter(d => d.col === c).nodes(), n => n.getComputedTextLength()));
  let acc = 0;
  const colX = colW.map(w => { const v = acc; acc += handle + gap + w + colGap; return v; });
  const boxW = acc - colGap + 2 * pad;
  const bx = X1 - 6 - boxW;
  box.attr('x', bx).attr('y', top + 6).attr('width', boxW).attr('height', 43).attr('rx', 4)
    .attr('fill', '#fff').attr('fill-opacity', 0.8)
    .attr('stroke', '#cccccc').attr('stroke-width', 1.4);
  texts.attr('x', d => bx + pad + colX[d.col] + handle + gap).attr('y', d => top + rows[d.row]);
  lg.selectAll('line').data(items).join('line')
    .attr('x1', d => bx + pad + colX[d.col]).attr('x2', d => bx + pad + colX[d.col] + handle)
    .attr('y1', d => top + rows[d.row]).attr('y2', d => top + rows[d.row])
    .attr('stroke', d => colors[d.k]).attr('stroke-opacity', 0.85).attr('stroke-width', 2.6);
}

function probPanel(top, bottom, title, solids, lows) {
  const g = svg.append('g');
  const y = d3.scaleLinear().domain([0, 115]).range([bottom, top]);
  const yVals = d3.range(0, 115.01, 5);
  background(g, y, top, bottom, yVals, 28);

  const plot = g.append('g');
  thresholds.forEach((name, k) => {
    const rows = times.map((t, i) => ({ t, hi: solids[k][i], lo: lows[k][i] }));
    plot.append('path').datum(rows)
      .attr('d', d3.area().x(d => x(d.t)).y0(d => y(d.lo)).y1(d => y(d.hi)))
      .attr('fill', colors[k]).attr('fill-opacity', 0.09);
    plot.append('path').datum(rows)
      .attr('d', d3.line().x(d => x(d.t)).y(d => y(d.lo)))
      .attr('fill', 'none').attr('stroke', colors[k]).attr('stroke-opacity', 0.7)
      .attr('stroke-width', 1.5).attr('stroke-dasharray', '1.5,2.5');
    plot.append('path').datum(rows)
      .attr('d', d3.line().x(d => x(d.t)).y(d => y(d.hi)))
      .attr('fill', 'none').attr('stroke', colors[k]).attr('stroke-opacity', 0.85)
      .attr('stroke-width', 2.6).attr('stroke-linejoin', 'round');
  });

  axes(g, y, top, bottom, yVals, d => (d / 100).toFixed(2), false);

  g.append('text').attr('x', (X0 + X1) / 2).attr('y', top - 12.5)
    .attr('text-anchor', 'middle').attr('font-size', 20.8).attr('fill', '#000').text(title);
  g.append('text').attr('transform', `translate(35,${(top + bottom) / 2}) rotate(-90)`)
    .attr('text-anchor', 'middle').attr('font-size', 16.5).attr('fill', '#000').text('Prob');
  probLegend(g, top);
}

function countPanel(top, bottom) {
  const g = svg.append('g');
  const all = [truthTim, truthDen, predTim, predDen, bandTimHi, bandTimLo, bandDenHi, bandDenLo].flat();
  const [vMin, vMax] = d3.extent(all);
  const vPad = (vMax - vMin) * 0.05;
  const y = d3.scaleLinear().domain([vMin - vPad, vMax + vPad]).range([bottom, top]);
  background(g, y, top, bottom, d3.range(0, vMax + vPad, 5), 23);

  const plot = g.append('g');
  const bands = [
    { hi: bandTimHi, lo: bandTimLo, color: '#ff0000' },
    { hi: bandDenHi, lo: bandDenLo, color: '#0000ff' }
  ];
  bands.forEach(b => {
    const rows = times.map((t, i) => ({ t, hi: b.hi[i], lo: b.lo[i] }));
    plot.append('path').datum(rows)
      .attr('d', d3.area().x(d => x(d.t)).y0(d => y(d.lo)).y1(d => y(d.hi)))
      .attr('fill', b.color).attr('fill-opacity', 0.13)
      .attr('stroke', b.color).attr('stroke-opacity', 0.13).attr('stroke-width', 1.5);
  });

  const series = [
    { vals: truthTim, color: '#ff0000', dash: null, op: 0.75 },
    { vals: truthDen, color: '#0000ff', dash: null, op: 0.75 },
    { vals: predTim, color: '#ff0000', dash: '3,5', op: 0.6 },
    { vals: predDen, color: '#0000ff', dash: '3,5', op: 0.6 }
  ];
  series.forEach(s => {
    plot.append('path').datum(times.map((t, i) => ({ t, v: s.vals[i] })))
      .attr('d', d3.line().x(d => x(d.t)).y(d => y(d.v)))
      .attr('fill', 'none').attr('stroke', s.color).attr('stroke-opacity', s.op)
      .attr('stroke-width', 3).attr('stroke-linejoin', 'round')
      .attr('stroke-dasharray', s.dash);
  });

  axes(g, y, top, bottom, countTicks, d3.format('d'), true);

  g.append('text').attr('transform', `translate(48,${(top + bottom) / 2}) rotate(-90)`)
    .attr('text-anchor', 'middle').attr('font-size', 16.5).attr('fill', '#000').text('Count');
  g.append('text').attr('x', (X0 + X1) / 2).attr('y', 1471)
    .attr('text-anchor', 'middle').attr('font-size', 20.8).attr('fill', '#000').text('Fight time (seconds)');

  // legend (upper left, drawn over the R8 label like the original)
  const lg = g.append('g');
  const bx = X0 + 9.5, by = top + 8, rowY = [12.7, 35, 57, 79];
  const box = lg.append('rect');
  const texts = lg.selectAll('text').data(series).join('text')
    .attr('x', bx + 46.5).attr('y', (d, i) => by + rowY[i]).attr('dy', '0.35em')
    .attr('font-size', 14.6).attr('fill', '#000').text((d, i) => countLegendLabels[i]);
  const maxW = d3.max(texts.nodes(), n => n.getComputedTextLength());
  box.attr('x', bx).attr('y', by).attr('width', 46.5 + maxW + 5).attr('height', 94).attr('rx', 4)
    .attr('fill', '#fff').attr('fill-opacity', 0.8).attr('stroke', '#cccccc').attr('stroke-width', 1.4);
  lg.selectAll('line').data(series).join('line')
    .attr('x1', bx + 5).attr('x2', bx + 36)
    .attr('y1', (d, i) => by + rowY[i]).attr('y2', (d, i) => by + rowY[i])
    .attr('stroke', d => d.color).attr('stroke-opacity', d => d.op)
    .attr('stroke-width', 3).attr('stroke-dasharray', d => d.dash);
}

probPanel(51, 518, `${fighters[0]} — Jab Strikes Thrown R10 Under Leadup (R8-R10) (Event 16300)`,
  [timU45, timU95, timU145, timU195, timU245, timU295, timU345, timU395],
  [timU45Lo, timU95Lo, timU145Lo, timU195Lo, timU245Lo, timU295Lo, timU345Lo, timU395Lo]);
probPanel(579, 1046, `${fighters[1]} — Jab Strikes Thrown R10 Under Leadup (R8-R10) (Event 16300)`,
  [denU45, denU95, denU145, denU195, denU245, denU295, denU345, denU395],
  [denU45Lo, denU95Lo, denU145Lo, denU195Lo, denU245Lo, denU295Lo, denU345Lo, denU395Lo]);
countPanel(1106, 1417);
</script>
</body>
</html>
